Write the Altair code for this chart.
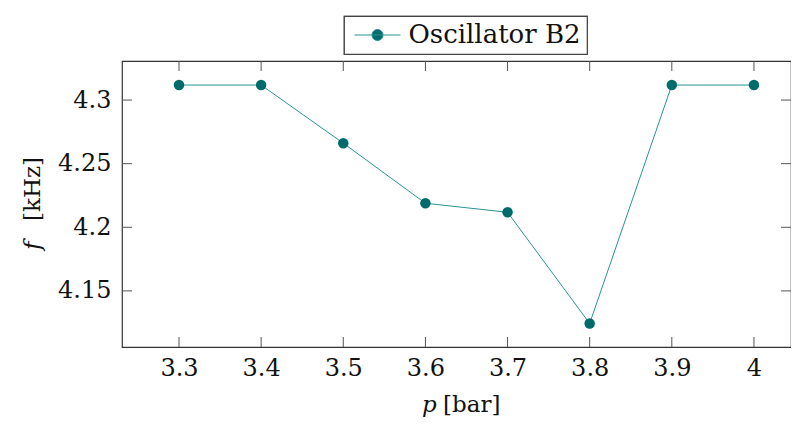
import altair as alt
import pandas as pd

pressure = [3.3, 3.4, 3.5, 3.6, 3.7, 3.8, 3.9, 4.0]
freq = [4.3118, 4.3118, 4.2661, 4.2189, 4.2118, 4.1244, 4.3118, 4.3118]
series_name = "Oscillator B2"
x_ticks = [3.3, 3.4, 3.5, 3.6, 3.7, 3.8, 3.9, 4.0]
y_ticks = [4.15, 4.2, 4.25, 4.3]
x_domain = [3.2306, 4.0451]
y_domain = [4.1059, 4.3307]

W, H = 669, 286
FONT = "DejaVu Serif"
FS = 24
LEG_FS = 26
TITLE_FS = 23
LINE_C = "#2a9494"
MARK_C = "#006b6b"

df = pd.DataFrame({"p": pressure, "f": freq, "s": [series_name] * len(pressure)})
xt = pd.DataFrame({"v": x_ticks})
yt = pd.DataFrame({"v": y_ticks})

xs = alt.Scale(domain=x_domain, nice=False, zero=False)
ys = alt.Scale(domain=y_domain, nice=False, zero=False)

xaxis = alt.Axis(values=x_ticks, ticks=False, domain=False, grid=False, title=None,
                 labelFont=FONT, labelFontSize=FS, labelColor="#111", labelPadding=9,
                 labelExpr="datum.value == 4 ? '4' : format(datum.value, '.1f')")
yaxis = alt.Axis(values=y_ticks, ticks=False, domain=False, grid=False, title=None,
                 labelFont=FONT, labelFontSize=FS, labelColor="#111", labelPadding=11,
                 labelExpr="format(datum.value, '~g')")

legend_path = "M-2,0L2,0M-0.48,0A0.48,0.48,0,1,1,0.48,0A0.48,0.48,0,1,1,-0.48,0Z"
leg = alt.Legend(title=None, symbolType=legend_path, symbolSize=529, symbolStrokeWidth=1,
                 symbolStrokeColor=LINE_C, symbolFillColor=MARK_C, symbolOffset=14.5,
                 labelOffset=18)

line = alt.Chart(df).mark_line(strokeWidth=1, clip=True).encode(
    x=alt.X("p:Q", scale=xs, axis=xaxis),
    y=alt.Y("f:Q", scale=ys, axis=yaxis),
    stroke=alt.Stroke("s:N", scale=alt.Scale(range=[LINE_C]), legend=leg),
)
points = alt.Chart(df).mark_point(filled=True, size=110, opacity=1).encode(
    x=alt.X("p:Q", scale=xs),
    y=alt.Y("f:Q", scale=ys),
    fill=alt.Fill("s:N", scale=alt.Scale(range=[MARK_C]), legend=leg),
)

tick_c = "#555"
xt_bot = alt.Chart(xt).mark_rule(color=tick_c, strokeWidth=1).encode(
    x=alt.X("v:Q", scale=xs), y=alt.value(H), y2=alt.value(H - 10))
xt_top = alt.Chart(xt).mark_rule(color=tick_c, strokeWidth=1).encode(
    x=alt.X("v:Q", scale=xs), y=alt.value(0), y2=alt.value(10))
yt_left = alt.Chart(yt).mark_rule(color=tick_c, strokeWidth=1).encode(
    y=alt.Y("v:Q", scale=ys), x=alt.value(0), x2=alt.value(10))
yt_right = alt.Chart(yt).mark_rule(color=tick_c, strokeWidth=1).encode(
    y=alt.Y("v:Q", scale=ys), x=alt.value(W), x2=alt.value(W - 10))

title_df = pd.DataFrame({"a": [0]})
px = alt.Chart(title_df).mark_text(text="p", font=FONT, fontSize=TITLE_FS, fontStyle="italic",
                                   align="left", baseline="alphabetic", color="#111").encode(
    x=alt.value(300), y=alt.value(351))
pbar = alt.Chart(title_df).mark_text(text="[bar]", font=FONT, fontSize=TITLE_FS,
                                     align="left", baseline="alphabetic", color="#111").encode(
    x=alt.value(321), y=alt.value(351))
fy = alt.Chart(title_df).mark_text(text="f", font=FONT, fontSize=TITLE_FS, fontStyle="italic", angle=270,
                                   align="left", baseline="alphabetic", color="#111").encode(
    x=alt.value(-82), y=alt.value(189))
fkhz = alt.Chart(title_df).mark_text(text="[kHz]", font=FONT, fontSize=TITLE_FS, angle=270,
                                     align="left", baseline="alphabetic", color="#111").encode(
    x=alt.value(-82), y=alt.value(160))

chart = alt.layer(line, points, xt_bot, xt_top, yt_left, yt_right, px, pbar, fy, fkhz).properties(
    width=W, height=H,
    autosize=alt.AutoSizeParams(type="none"),
    padding={"left": 114, "top": 53, "right": 0, "bottom": 74},
).configure_view(
    stroke="#333", strokeWidth=1.2
).configure_legend(
    orient="none", legendX=222, legendY=-45,
    strokeColor="#444", strokeWidth=1.2, padding=6, fillColor="white",
    labelFont=FONT, labelFontSize=LEG_FS, labelColor="#111", labelLimit=400,
)

chart.save("out.html", embed_options={"renderer": "svg", "actions": False})
